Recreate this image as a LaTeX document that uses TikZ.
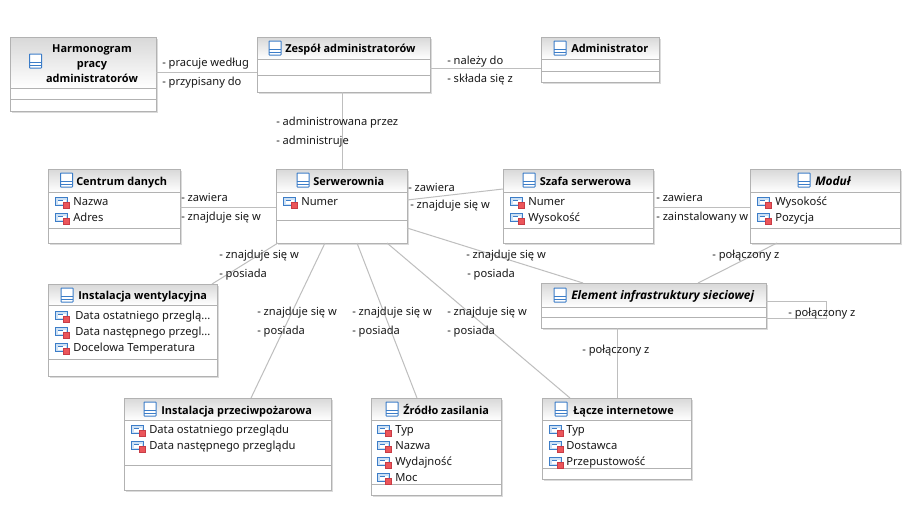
\documentclass[tikz,border=0pt]{standalone}
\usepackage{fontspec}
\setmainfont{Noto Sans}
\newfontfamily\ttlfont{Open Sans}
\usetikzlibrary{calc}
\definecolor{bordc}{RGB}{178,178,178}
\definecolor{linec}{RGB}{190,190,190}
\definecolor{headtop}{RGB}{216,216,216}
\definecolor{icob}{RGB}{60,125,200}
\definecolor{icol}{RGB}{205,225,245}
\definecolor{icor}{RGB}{235,85,90}
\definecolor{icorb}{RGB}{200,60,70}
\newcommand{\ClsBox}[7]{%
 \fill[black!14] (#2+2,#3+2) rectangle (#4+2,#5+2);
 \shade[top color=headtop,bottom color=white] (#2,#3) rectangle (#4,#6);
 \fill[white] (#2,#6) rectangle (#4,#5);
 \draw[bordc,line width=.75pt] (#2,#6) -- (#4,#6) (#2,#7) -- (#4,#7);
 \node[boxnode,minimum width={(#4-#2)*0.75pt},minimum height={(#5-#3)*0.75pt}] (#1) at ({(#2+#4)/2},{(#3+#5)/2}) {};
}
\newcommand{\ClsIco}[2]{%
 \draw[icob,fill=white,line width=.75pt,rounded corners=.4pt] (#1-6,#2-7) rectangle (#1+6,#2+7);
 \draw[icob,line width=.75pt] (#1-6,#2+1.5) -- (#1+6,#2+1.5) (#1-6,#2+4.5) -- (#1+6,#2+4.5);
}
\newcommand{\AttrIco}[2]{%
 \draw[icob,fill=icol,line width=.75pt] (#1+.5,#2-3.5) rectangle (#1+12.5,#2+4.5);
 \fill[white] (#1+2.5,#2-1) rectangle (#1+10.5,#2+3);
 \draw[icob,line width=.6pt] (#1+3,#2-.5) -- (#1+8,#2-.5);
 \draw[icorb,fill=icor,line width=.6pt] (#1+8.5,#2+1) rectangle (#1+14.5,#2+7);
}
\tikzset{
 boxnode/.style={draw=bordc,line width=.75pt,inner sep=0pt,outer sep=0pt,shape=rectangle},
 conn/.style={linec,line width=.75pt},
 title/.style={font=\fontsize{8.2pt}{10.2pt}\selectfont\ttlfont\bfseries,inner sep=0pt,anchor=west,text height=6pt,text depth=2pt,yshift=-1.2pt},
 ttitle/.style={font=\fontsize{8.9pt}{10.2pt}\selectfont\ttlfont\bfseries\itshape,inner sep=0pt,anchor=west,text height=6pt,text depth=2pt,yshift=-1.2pt},
 attr/.style={font=\fontsize{8.4pt}{10pt}\selectfont,inner sep=0pt,anchor=west,text=black!90,text height=6pt,text depth=2pt,yshift=-1.2pt},
 lab/.style={font=\fontsize{8.35pt}{10pt}\selectfont,inner sep=0pt,anchor=west,text=black!90,text height=6pt,text depth=2pt,yshift=-1.4pt},
}
\begin{document}
\begin{tikzpicture}[x=.75pt,y=-.75pt]
\useasboundingbox[fill=white] (0,0) rectangle (915,508);
\ClsBox{harm}{10}{37}{156}{111}{88}{99}
\ClsBox{zesp}{257}{37}{430}{92}{59}{75}
\ClsBox{admin}{541}{37}{659}{82}{59}{71}
\ClsBox{centrum}{48}{169}{180}{243}{192}{228}
\ClsBox{serw}{276}{169}{407}{243}{192}{220}
\ClsBox{szafa}{503}{169}{653}{243}{192}{228}
\ClsBox{modul}{750}{169}{900}{243}{192}{228}
\ClsBox{went}{48}{284}{217}{376}{305}{359}
\ClsBox{elem}{541}{283}{766}{328}{307}{317}
\ClsBox{poz}{124}{398}{331}{490}{420}{465}
\ClsBox{zrodlo}{371}{398}{501}{495}{420}{484}
\ClsBox{lacze}{542}{398}{691}{479}{420}{468}
% connectors
\draw[conn] (harm.east |- 0,72) -- (zesp.west |- 0,72);
\draw[conn] (zesp.east |- 0,68.5) -- (admin.west |- 0,68.5);
\draw[conn] (342,0 |- zesp.south) -- (342,0 |- serw.north);
\draw[conn] (centrum.east |- 0,207) -- (serw.west |- 0,207);
\draw[conn] (serw.east |- 0,200) -- (szafa.west |- 0,189);
\draw[conn] (szafa.east |- 0,207) -- (modul.west |- 0,207);
\draw[conn] (serw.east |- 0,228) -- (583,0 |- elem.north);
\draw[conn] (278,0 |- serw.south) -- (212,0 |- went.north);
\draw[conn] (325,0 |- serw.south) -- (251,0 |- poz.north);
\draw[conn] (357,0 |- serw.south) -- (417,0 |- zrodlo.north);
\draw[conn] (387,0 |- serw.south) -- (570,0 |- lacze.north);
\draw[conn] (777,0 |- modul.south) -- (698,0 |- elem.north);
\draw[conn] (617,0 |- elem.south) -- (617,0 |- lacze.north);
\draw[conn] (elem.east |- 0,301) -- (826,301) -- (826,318) -- (elem.east |- 0,318);
% titles
\ClsIco{35.5}{61}
\node[font=\fontsize{8.2pt}{11.25pt}\selectfont\ttlfont\bfseries,align=center,inner sep=0pt] at (92,64) {Harmonogram\\pracy\\administratorów};
\ClsIco{275}{48}\node[title] at (285,48) {Zespół administratorów};
\ClsIco{560}{48}\node[title] at (571,48) {Administrator};
\ClsIco{66.5}{180}\node[title] at (76,181) {Centrum danych};
\ClsIco{303}{180}\node[title] at (313,181) {Serwerownia};
\ClsIco{529}{180}\node[title] at (539.5,181) {Szafa serwerowa};
\ClsIco{804}{180}\node[ttitle] at (815,181) {Moduł};
\ClsIco{67}{295}\node[title] at (78,295) {Instalacja wentylacyjna};
\ClsIco{560}{295}\node[ttitle] at (571,295) {Element infrastruktury sieciowej};
\ClsIco{150}{409}\node[title] at (161,410) {Instalacja przeciwpożarowa};
\ClsIco{392}{409}\node[title] at (403,410) {Źródło zasilania};
\ClsIco{561}{409}\node[title] at (573,410) {Łącze internetowe};
% attributes
\foreach \yy/\txt in {201/Nazwa,217/Adres}{\AttrIco{55}{\yy}\node[attr] at (73,\yy) {\txt};}
\AttrIco{283}{201}\node[attr] at (301,201) {Numer};
\foreach \yy/\txt in {201/Numer,217/Wysokość}{\AttrIco{510}{\yy}\node[attr] at (528,\yy) {\txt};}
\foreach \yy/\txt in {201/Wysokość,217/Pozycja}{\AttrIco{757}{\yy}\node[attr] at (775,\yy) {\txt};}
\AttrIco{55}{315}\node[attr] at (75,315) {Data ostatniego przeglą...};
\AttrIco{55}{331}\node[attr] at (75,331) {Data następnego przegl...};
\AttrIco{55}{347}\node[attr] at (73,347) {Docelowa Temperatura};
\foreach \yy/\txt in {429/Data ostatniego przeglądu,445/Data następnego przeglądu}{\AttrIco{131}{\yy}\node[attr] at (149,\yy) {\txt};}
\foreach \yy/\txt in {429/Typ,445/Nazwa,461/Wydajność,477/Moc}{\AttrIco{377}{\yy}\node[attr] at (395,\yy) {\txt};}
\foreach \yy/\txt in {429/Typ,445/Dostawca,461/Przepustowość}{\AttrIco{549}{\yy}\node[attr] at (566,\yy) {\txt};}
% labels
\node[lab] at (162,62) {- pracuje według};
\node[lab] at (162,81) {- przypisany do};
\node[lab] at (447,60) {- należy do};
\node[lab] at (447,78) {- składa się z};
\node[lab] at (276,121) {- administrowana przez};
\node[lab] at (276,140) {- administruje};
\node[lab] at (181,197) {- zawiera};
\node[lab] at (181,216) {- znajduje się w};
\node[lab] at (408,187) {- zawiera};
\node[lab] at (410,204) {- znajduje się w};
\node[lab] at (656,197) {- zawiera};
\node[lab] at (656,216) {- zainstalowany w};
\node[lab] at (219,254) {- znajduje się w};
\node[lab] at (219,273) {- posiada};
\node[lab] at (466,254) {- znajduje się w};
\node[lab] at (467,273) {- posiada};
\node[lab] at (712,254) {- połączony z};
\node[lab] at (257,311) {- znajduje się w};
\node[lab] at (257,330) {- posiada};
\node[lab] at (352,311) {- znajduje się w};
\node[lab] at (352,330) {- posiada};
\node[lab] at (447,311) {- znajduje się w};
\node[lab] at (447,330) {- posiada};
\node[lab] at (788,312) {- połączony z};
\node[lab] at (582,349) {- połączony z};
\end{tikzpicture}
\end{document}
